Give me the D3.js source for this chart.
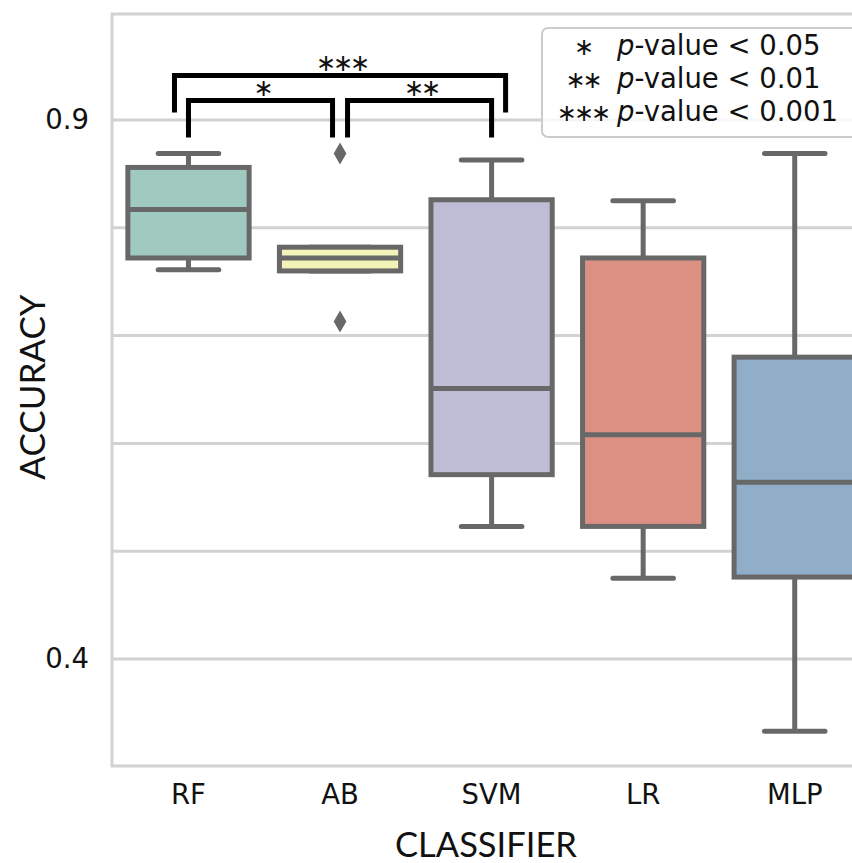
<!DOCTYPE html>
<html>
<head>
<meta charset="utf-8">
<script src="https://cdn.jsdelivr.net/npm/d3@7"></script>
<style>
  body { margin: 0; background: #fff; }
  svg { display: block; }
</style>
</head>
<body>
<script>
// box plot of accuracy per classifier

const w = 852;
const h = 863;

const classifiers = ["RF", "AB", "SVM", "LR", "MLP"];
const whiskerLow  = [0.761, 0.760, 0.523, 0.475, 0.333];
const q1          = [0.772, 0.760, 0.571, 0.523, 0.476];
const medians     = [0.817, 0.772, 0.651, 0.608, 0.564];
const q3          = [0.856, 0.782, 0.826, 0.772, 0.680];
const whiskerHigh = [0.869, 0.782, 0.863, 0.825, 0.869];

const outlierGroups = ["AB", "AB"];
const outlierValues = [0.869, 0.713];

const yTickValues = [0.4, 0.9];
const gridValues = [0.4, 0.5, 0.6, 0.7, 0.8, 0.9];

const sigPairs = [["RF", "AB"], ["AB", "SVM"], ["RF", "SVM"]];
const sigLabels = ["\u2217", "\u2217\u2217", "\u2217\u2217\u2217"];

const legendStars = ["\u2217", "\u2217\u2217", "\u2217\u2217\u2217"];
const legendThresholds = ["0.05", "0.01", "0.001"];

const palette = ["#a0cac0", "#f3f2b8", "#bfbcd6", "#dc9084", "#91aec9"];
const edge = "#686868";
const frame = "#d2d2d2";

let svg = d3.select("body")
    .append("svg")
    .attr("width", w)
    .attr("height", h)
    .style("font-family", "'DejaVu Sans', Verdana, sans-serif");

const pLeft = 112, pRight = 870.5, pTop = 14, pBottom = 766;

const x = d3.scaleBand().domain(classifiers).range([pLeft + 0.7, pRight]);
const y = d3.scaleLinear().domain([0.4, 0.9]).range([659, 120]);
const bw = x.bandwidth();
const cx = c => x(c) + bw / 2;

// grid
svg.append("g")
    .selectAll("line")
    .data(gridValues)
    .join("line")
    .attr("x1", pLeft).attr("x2", pRight)
    .attr("y1", d => y(d)).attr("y2", d => y(d))
    .attr("stroke", frame)
    .attr("stroke-width", 3);

// frame
svg.append("path")
    .attr("d", `M${pRight},${pTop}H${pLeft}V${pBottom}H${pRight}`)
    .attr("fill", "none")
    .attr("stroke", frame)
    .attr("stroke-width", 3);

// axes
let yAxis = svg.append("g")
    .attr("transform", `translate(${pLeft},0)`)
    .call(d3.axisLeft(y).tickValues(yTickValues).tickSize(0).tickPadding(23).tickFormat(d3.format(".1f")));
yAxis.select(".domain").remove();
yAxis.attr("font-family", null).attr("font-size", null);
yAxis.selectAll("text").attr("font-size", 27.5).attr("fill", "#111");

let xAxis = svg.append("g")
    .attr("transform", `translate(0,${pBottom})`)
    .call(d3.axisBottom(x).tickSize(0).tickPadding(18));
xAxis.select(".domain").remove();
xAxis.attr("font-family", null).attr("font-size", null);
xAxis.selectAll("text").attr("font-size", 27.5).attr("fill", "#111");

// boxes
const boxes = classifiers.map((c, i) => ({
    c: c, lo: whiskerLow[i], q1: q1[i], med: medians[i], q3: q3[i], hi: whiskerHigh[i], fill: palette[i]
}));

let g = svg.append("g")
    .selectAll("g")
    .data(boxes)
    .join("g")
    .attr("transform", d => `translate(${cx(d.c)},0)`);

const boxW = bw * 0.8;
const capW = bw * 0.4;

g.append("path")
    .attr("d", d => `M0,${y(d.hi)}V${y(d.q3)}M0,${y(d.q1)}V${y(d.lo)}` +
        `M${-capW / 2},${y(d.hi)}H${capW / 2}M${-capW / 2},${y(d.lo)}H${capW / 2}`)
    .attr("stroke", edge)
    .attr("stroke-width", 5)
    .attr("stroke-linecap", "round")
    .attr("fill", "none");

g.append("rect")
    .attr("x", -boxW / 2)
    .attr("width", boxW)
    .attr("y", d => y(d.q3))
    .attr("height", d => y(d.q1) - y(d.q3))
    .attr("fill", d => d.fill)
    .attr("stroke", edge)
    .attr("stroke-width", 5);

g.append("line")
    .attr("x1", -boxW / 2).attr("x2", boxW / 2)
    .attr("y1", d => y(d.med)).attr("y2", d => y(d.med))
    .attr("stroke", edge)
    .attr("stroke-width", 5);

// outliers
svg.append("g")
    .selectAll("path")
    .data(outlierValues.map((v, i) => ({ c: outlierGroups[i], v: v })))
    .join("path")
    .attr("d", d3.symbol(d3.symbolDiamond, 140))
    .attr("transform", d => `translate(${cx(d.c)},${y(d.v)})`)
    .attr("fill", edge);

// significance brackets
const highPx = y(d3.max(whiskerHigh.concat(outlierValues)));
const sig = sigPairs.map((p, i) => {
    const ia = classifiers.indexOf(p[0]), ib = classifiers.indexOf(p[1]);
    const span = ib - ia;
    let x1 = cx(p[0]), x2 = cx(p[1]);
    if (span > 1) {
        x1 -= 14; x2 += 14;
    } else {
        const shared = c => sigPairs.some((q, j) => j !== i &&
            classifiers.indexOf(q[1]) - classifiers.indexOf(q[0]) === 1 && q.includes(c));
        if (shared(p[0])) x1 += 7.5;
        if (shared(p[1])) x2 -= 7.5;
    }
    const legY = highPx - 16 - (span - 1) * 25;
    return { x1: x1, x2: x2, legY: legY, topY: legY - 37, label: sigLabels[i] };
});

svg.append("g")
    .selectAll("path")
    .data(sig)
    .join("path")
    .attr("d", d => `M${d.x1},${d.legY}V${d.topY}H${d.x2}V${d.legY}`)
    .attr("fill", "none")
    .attr("stroke", "#000")
    .attr("stroke-width", 5);

const starSize = 24;
const starSpacing = -3;

svg.append("g")
    .selectAll("text")
    .data(sig)
    .join("text")
    .attr("x", d => (d.x1 + d.x2) / 2 - starSpacing / 2)
    .attr("y", d => d.topY - 4)
    .attr("text-anchor", "middle")
    .attr("font-size", starSize)
    .attr("letter-spacing", starSpacing)
    .attr("fill", "#111")
    .text(d => d.label);

// legend
let legend = svg.append("g");
legend.append("rect")
    .attr("x", 542).attr("y", 28)
    .attr("width", 340).attr("height", 109)
    .attr("rx", 6)
    .attr("fill", "#fff")
    .attr("fill-opacity", 0.8)
    .attr("stroke", "#cccccc")
    .attr("stroke-width", 2);

let rows = legend.selectAll("g")
    .data(legendStars.map((s, i) => ({ s: s, t: legendThresholds[i] })))
    .join("g")
    .attr("transform", (d, i) => `translate(0,${55 + i * 33})`);

rows.append("text")
    .attr("x", 581 - starSpacing / 2)
    .attr("y", 0)
    .attr("text-anchor", "middle")
    .attr("font-size", starSize)
    .attr("letter-spacing", starSpacing)
    .attr("fill", "#111")
    .text(d => d.s);

let lt = rows.append("text")
    .attr("x", 617)
    .attr("font-size", 27.5)
    .attr("fill", "#111");
lt.append("tspan").attr("font-style", "italic").text("p");
lt.append("tspan").text(d => "-value < " + d.t);

// axis titles
svg.append("text")
    .attr("x", 486)
    .attr("y", 857)
    .attr("text-anchor", "middle")
    .attr("font-family", "Lato, 'Open Sans', sans-serif")
    .attr("font-size", 34.5)
    .attr("fill", "#111")
    .text("CLASSIFIER");

svg.append("text")
    .attr("transform", "translate(45,387) rotate(-90)")
    .attr("text-anchor", "middle")
    .attr("font-family", "Lato, 'Open Sans', sans-serif")
    .attr("font-size", 35)
    .attr("fill", "#111")
    .text("ACCURACY");
</script>
</body>
</html>
